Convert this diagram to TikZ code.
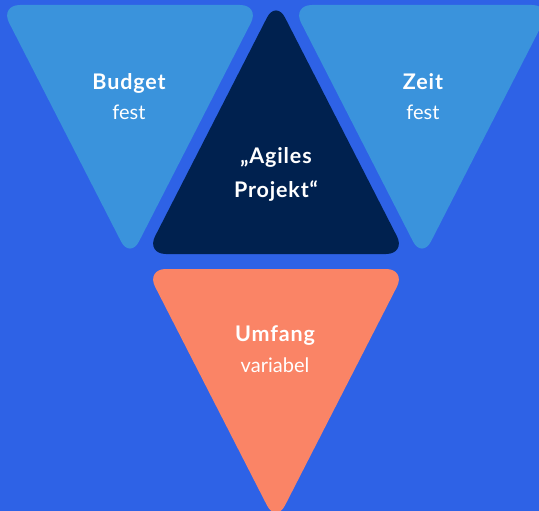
\documentclass[tikz,border=0pt]{standalone}
\usepackage{fontspec}
\setmainfont{Lato}
\newfontfamily\headfont[LetterSpace=4]{Lato}
\usepackage{tikz}
\usetikzlibrary{positioning}
\definecolor{planblue}{RGB}{46,98,230}
\definecolor{fixblue}{RGB}{58,147,220}
\definecolor{agilenavy}{RGB}{0,33,79}
\definecolor{scopecoral}{RGB}{250,132,102}

\tikzset{
  wedge/.style={rounded corners=20pt},
  headline/.style={anchor=base, text=white, font=\fontsize{21.5}{24}\headfont\bfseries, inner sep=0pt},
  subline/.style={anchor=base, text=white, font=\fontsize{20}{24}\selectfont, inner sep=0pt}
}

\begin{document}
\begin{tikzpicture}[x=1pt, y=-1pt]
\fill[planblue] (0,0) rectangle (539,511);
\useasboundingbox (0,0) rectangle (539,511);
\begin{scope}
\clip (0,0) rectangle (539,511);
\fill[fixblue, wedge] (0,5) -- (260,5) -- (130,259) -- cycle;
\fill[fixblue, wedge] (292,5) -- (552,5) -- (422,259) -- cycle;
\fill[agilenavy, wedge] (146,254) -- (276,0) -- (406,254) -- cycle;
\fill[scopecoral, wedge] (146,269) -- (406,269) -- (276,523) -- cycle;
\end{scope}

\node[headline] (budget) at (129,90) {Budget};
\node[subline] (budgetfix) at (129,119.5) {fest};
\node[headline] (zeit) at (423,90) {Zeit};
\node[subline] (zeitfix) at (423,119.5) {fest};
\node[headline] (agiles) at (276,164) {„Agiles};
\node[headline] (projekt) at (276,197) {Projekt“};
\node[headline] (umfang) at (275,341.5) {Umfang};
\node[subline] (umfangvar) at (275,372.5) {variabel};
\end{tikzpicture}
\end{document}
